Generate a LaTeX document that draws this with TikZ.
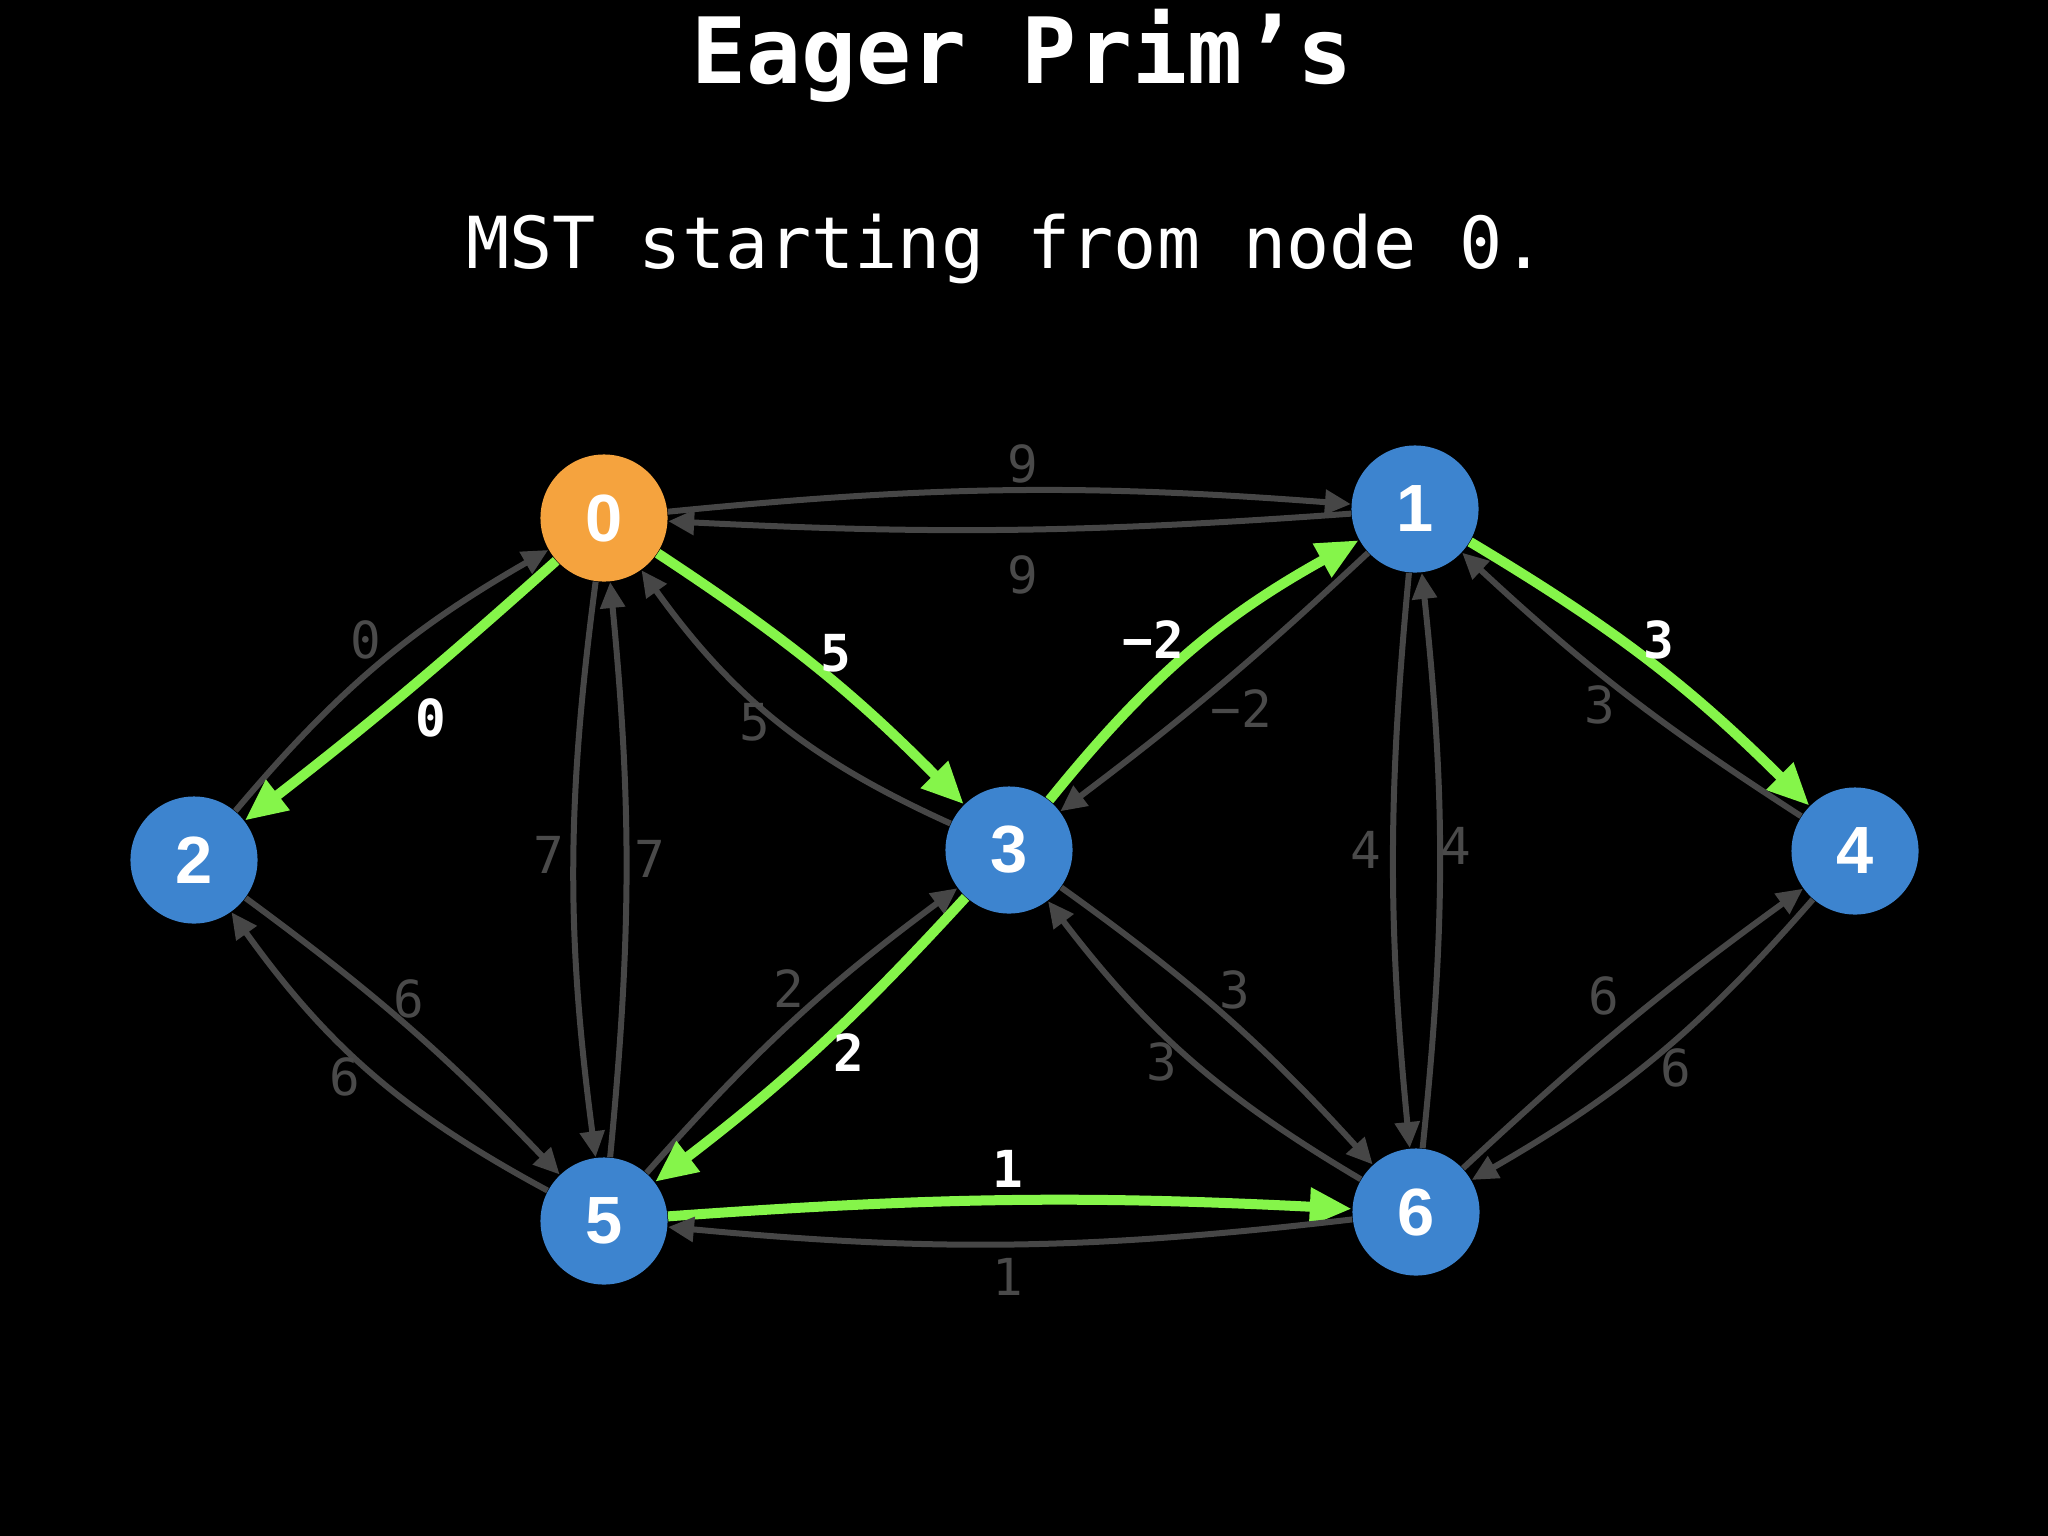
\documentclass[tikz,border=0pt]{standalone}
\usepackage{fontspec}
\newfontfamily\monof{DejaVu Sans Mono}
\newfontfamily\nodef{Liberation Sans}
\usetikzlibrary{arrows.meta}
\definecolor{orng}{HTML}{F5A33E}
\definecolor{blu}{HTML}{3D84CF}
\definecolor{grn}{HTML}{85F54A}
\definecolor{edg}{HTML}{464646}
\definecolor{lbg}{HTML}{4A4A4A}
\begin{document}
\begin{tikzpicture}[x=0.01cm,y=-0.01cm,
  vert/.style={circle, fill=blu, minimum size=1.27cm, inner sep=0pt, text=white, font=\nodef\bfseries\fontsize{19}{22}\selectfont},
  srcvert/.style={vert, fill=orng},
  gedge/.style={draw=edg, line width=0.06cm, -{Triangle[length=0.26cm,width=0.24cm]}},
  tedge/.style={draw=grn, line width=0.1cm, -{Triangle[length=0.42cm,width=0.36cm]}},
  glab/.style={text=lbg, font=\monof\fontsize{14.5}{17}\selectfont, inner sep=0pt},
  wlab/.style={text=white, font=\monof\bfseries\fontsize{14.5}{17}\selectfont, inner sep=0pt},
  ttl/.style={text=white, anchor=base, inner sep=0pt},
]
\fill[black] (0,0) rectangle (2048,1536);
\useasboundingbox (0,0) rectangle (2048,1536);

\node[ttl, font=\monof\bfseries\fontsize{26}{30}\selectfont] (title) at (1022,83) {Eager Prim’s};
\node[ttl, font=\monof\fontsize{20.4}{24}\selectfont] (sub) at (1006,268) {MST starting from node 0.};

\node[srcvert] (n0) at (604,518) {0};
\node[vert] (n1) at (1415,509) {1};
\node[vert] (n2) at (194,860) {2};
\node[vert] (n3) at (1009,850) {3};
\node[vert] (n4) at (1855,851) {4};
\node[vert] (n5) at (604,1221) {5};
\node[vert] (n6) at (1416,1212) {6};

\draw[gedge] (n0) to[bend left=5] (n1);
\draw[gedge] (n1) to[bend left=3.5] (n0);
\draw[gedge] (n2) to[bend left=10] (n0);
\draw[tedge] (n0) to[bend left=2] (n2);
\draw[gedge] (n0) to[bend right=7.5] (n5);
\draw[gedge] (n5) to[bend right=5.5] (n0);
\draw[tedge] (n0) to[bend left=6] (n3);
\draw[gedge] (n3) to[bend left=15] (n0);
\draw[tedge] (n3) to[bend left=11] (n1);
\draw[gedge] (n1) to[bend left=3] (n3);
\draw[tedge] (n1) to[bend left=7] (n4);
\draw[gedge] (n4) to[bend left=5] (n1);
\draw[gedge] (n1) to[bend right=5.5] (n6);
\draw[gedge] (n6) to[bend right=6] (n1);
\draw[gedge] (n2) to[bend left=5] (n5);
\draw[gedge] (n5) to[bend left=13] (n2);
\draw[gedge] (n5) to[bend left=6] (n3);
\draw[tedge] (n3) to[bend left=5] (n5);
\draw[gedge] (n3) to[bend left=6] (n6);
\draw[gedge] (n6) to[bend left=11] (n3);
\draw[tedge] (n5) to[bend left=3.5] (n6);
\draw[gedge] (n6) to[bend left=6] (n5);
\draw[gedge] (n6) to[bend left=3.5] (n4);
\draw[gedge] (n4) to[bend left=9.5] (n6);

\node[glab] (l01) at (1023,464) {9};
\node[glab] (l10) at (1023,575) {9};
\node[glab] (l20) at (366,640) {0};
\node[wlab] (l02) at (431,718) {0};
\node[glab] (l05) at (549,855) {7};
\node[glab] (l50) at (650,859) {7};
\node[wlab] (l03) at (836,653) {5};
\node[glab] (l30) at (755,722) {5};
\node[wlab] (l31) at (1153,640) {−2};
\node[glab] (l13) at (1241,709) {−2};
\node[wlab] (l14) at (1659,640) {3};
\node[glab] (l41) at (1600,705) {3};
\node[glab] (l16) at (1366,850) {4};
\node[glab] (l61) at (1456,846) {4};
\node[glab] (l25) at (409,999) {6};
\node[glab] (l52) at (345,1077) {6};
\node[glab] (l53) at (789,989) {2};
\node[wlab] (l35) at (849,1053) {2};
\node[glab] (l36) at (1235,990) {3};
\node[glab] (l63) at (1162,1062) {3};
\node[wlab] (l56) at (1008,1169) {1};
\node[glab] (l65) at (1008,1277) {1};
\node[glab] (l64) at (1604,996) {6};
\node[glab] (l46) at (1676,1068) {6};
\end{tikzpicture}
\end{document}
